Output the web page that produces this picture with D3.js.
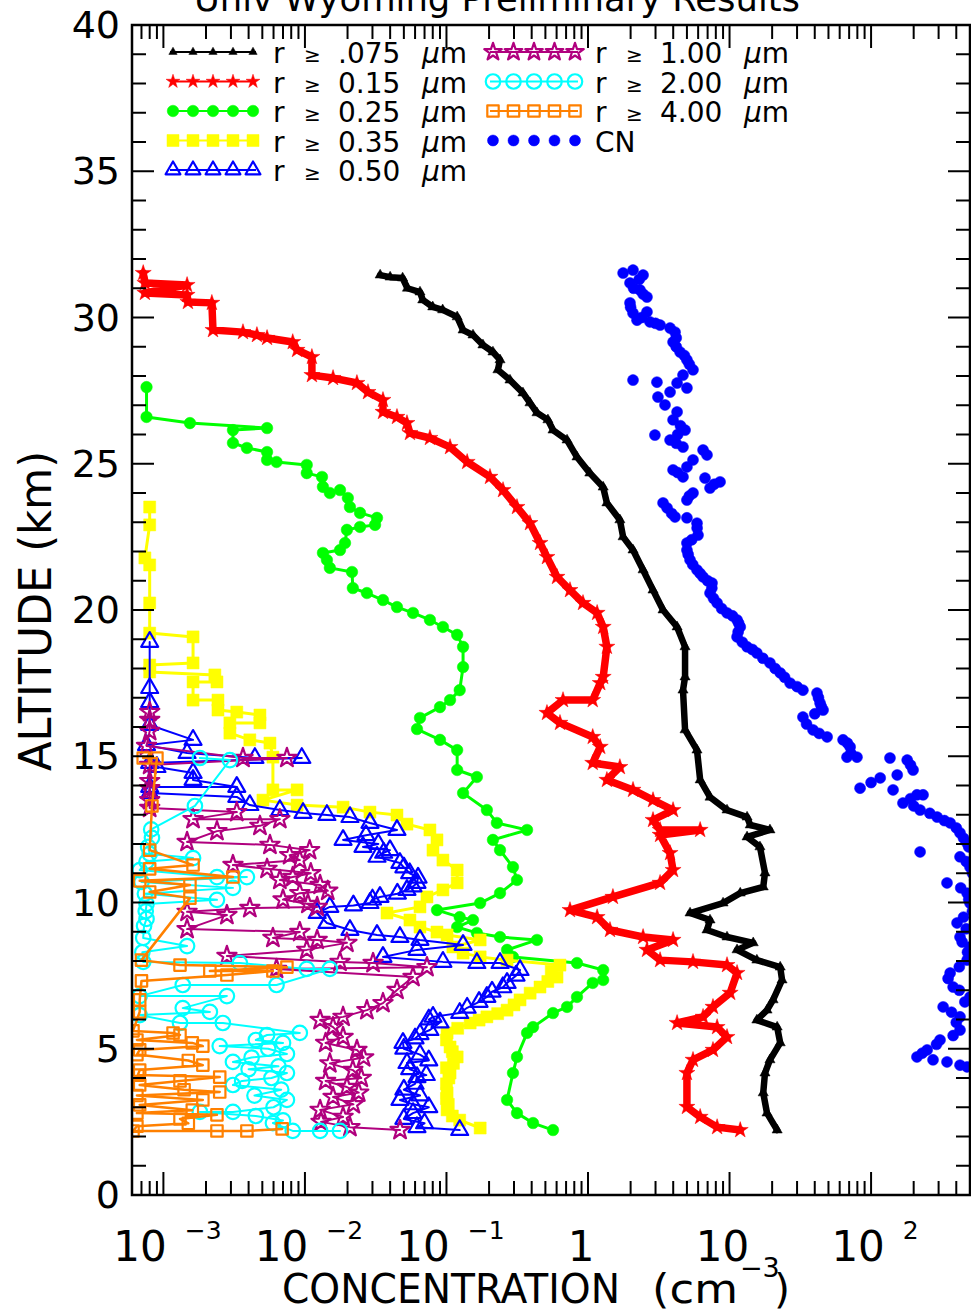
<!DOCTYPE html>
<html><head><meta charset="utf-8">
<script src="https://cdn.jsdelivr.net/npm/d3@7/dist/d3.min.js"></script>
<style>body{margin:0;background:#fff}svg{display:block}text{font-family:"DejaVu Sans",sans-serif;fill:#000}</style>
</head><body><svg id="c" width="971" height="1313"></svg>
<script>
// ---- data: [altitude km, concentration cm^-3] ----
const black = [[31.45,0.034],[31.38,0.040],[31.35,0.049],[31.0,0.053],[30.87,0.065],[30.6,0.068],[30.36,0.080],[30.26,0.094],[30.02,0.119],[29.57,0.131],[29.4,0.154],[29.06,0.181],[28.82,0.213],[28.55,0.239],[28.21,0.231],[27.86,0.281],[27.42,0.347],[27.08,0.389],[26.74,0.436],[26.5,0.521],[26.15,0.566],[25.81,0.711],[25.23,0.836],[24.68,1.03],[24.2,1.28],[23.66,1.36],[23.08,1.68],[22.5,1.77],[22.05,2.08],[21.37,2.45],[20.68,2.88],[20.0,3.39],[19.42,4.26],[18.74,4.85],[17.71,4.85],[17.26,4.69],[15.9,4.85],[15.21,5.89],[14.19,6.2],[13.6,7.28],[13.16,9.6],[12.92,13.3],[12.65,14.0],[12.48,19.3],[12.24,13.3],[11.9,16.4],[11.01,17.8],[10.53,17.3],[10.32,11.9],[9.98,9.0],[9.64,5.26],[9.4,7.28],[9.06,6.93],[8.82,9.6],[8.62,14.7],[8.38,11.3],[8.03,15.6],[7.79,22.8],[7.35,23.5],[6.67,20.3],[6.32,18.4],[5.98,15.6],[5.74,21.7],[5.2,22.8],[4.62,19.3],[4.17,17.8],[3.49,17.3],[2.8,18.4],[2.22,21.7]];
const red = [[31.52,7.2e-4],[31.18,7.4e-4],[31.11,1.47e-3],[30.84,7.4e-4],[30.77,1.47e-3],[30.53,1.49e-3],[30.5,2.2e-3],[29.57,2.24e-3],[29.5,3.65e-3],[29.4,4.58e-3],[29.3,5.4e-3],[29.16,8.2e-3],[28.89,8.8e-3],[28.65,0.0112],[28.03,0.0112],[27.93,0.0158],[27.76,0.0233],[27.45,0.0279],[27.18,0.0356],[26.77,0.0356],[26.6,0.0447],[26.39,0.0526],[26.05,0.0552],[25.88,0.0764],[25.57,0.106],[25.06,0.14],[24.55,0.203],[24.1,0.251],[23.52,0.315],[22.97,0.389],[22.29,0.458],[21.81,0.513],[21.13,0.604],[20.68,0.746],[20.24,0.922],[19.9,1.16],[19.42,1.28],[18.74,1.36],[17.71,1.28],[17.5,1.22],[16.92,1.08],[16.92,0.666],[16.48,0.513],[16.14,0.634],[15.66,1.08],[15.32,1.22],[14.77,1.08],[14.63,1.68],[14.19,1.36],[13.85,2.08],[13.5,2.88],[13.16,3.99],[12.82,2.88],[12.48,3.23],[12.48,6.2],[12.31,3.23],[11.69,3.8],[11.11,3.99],[10.67,3.23],[10.19,1.5],[9.74,0.746],[9.5,1.16],[9.06,1.43],[8.82,2.45],[8.72,3.99],[8.38,2.61],[8.03,3.23],[7.97,5.52],[7.86,9.6],[7.59,11.3],[6.91,10.1],[6.43,7.64],[6.09,6.5],[5.88,4.26],[5.74,8.17],[5.4,9.6],[4.96,7.64],[4.62,5.52],[4.17,5.0],[3.01,5.0],[2.67,6.2],[2.32,8.17],[2.22,11.9]];
const green = [[27.62,7.6e-4],[26.6,7.6e-4],[26.39,1.54e-3],[26.22,5.4e-3],[26.15,3.1e-3],[25.71,3.1e-3],[25.54,3.89e-3],[25.4,5.4e-3],[25.13,5.4e-3],[25.06,6.3e-3],[24.96,0.0103],[24.68,0.0103],[24.55,0.0132],[24.21,0.0134],[24.0,0.015],[24.1,0.0177],[23.83,0.0201],[23.52,0.0208],[23.32,0.0245],[23.15,0.0323],[22.91,0.0313],[22.84,0.0245],[22.74,0.0198],[22.29,0.0192],[22.05,0.0177],[21.95,0.0134],[21.71,0.0143],[21.44,0.015],[21.3,0.0215],[20.75,0.0218],[20.58,0.0274],[20.34,0.0356],[20.1,0.0447],[19.9,0.058],[19.66,0.0764],[19.42,0.0944],[19.15,0.119],[18.74,0.131],[18.05,0.131],[17.26,0.124],[16.92,0.106],[16.68,0.09],[16.31,0.065],[15.93,0.0619],[15.56,0.09],[15.21,0.119],[14.53,0.119],[14.29,0.164],[13.74,0.131],[13.16,0.193],[12.72,0.227],[12.48,0.371],[12.14,0.213],[11.79,0.239],[11.21,0.295],[10.77,0.315],[10.32,0.239],[9.98,0.173],[9.74,0.0857],[9.5,0.124],[9.4,0.154],[9.16,0.119],[8.96,0.164],[8.82,0.239],[8.72,0.436],[8.38,0.268],[8.14,0.295],[7.93,0.836],[7.69,1.28],[7.35,1.28],[7.25,1.08],[6.77,0.836],[6.43,0.711],[6.22,0.566],[5.74,0.409],[5.54,0.371],[4.72,0.315],[4.17,0.295],[3.25,0.268],[2.8,0.315],[2.46,0.409],[2.22,0.566]];
const yellow = [[23.52,8.0e-4],[22.91,8.0e-4],[21.78,7.4e-4],[21.54,8.0e-4],[20.24,8.0e-4],[19.21,8.0e-4],[19.08,1.62e-3],[18.19,1.62e-3],[18.12,8.0e-4],[17.88,8.0e-4],[17.78,2.31e-3],[17.54,2.39e-3],[17.54,1.62e-3],[16.92,1.62e-3],[16.92,2.43e-3],[16.58,2.43e-3],[16.51,3.3e-3],[16.41,4.81e-3],[16.14,4.81e-3],[16.14,2.95e-3],[15.79,2.95e-3],[15.56,4.08e-3],[15.45,5.66e-3],[14.97,5.94e-3],[13.85,5.94e-3],[13.85,8.8e-3],[13.5,5.05e-3],[13.33,8.8e-3],[13.26,0.0186],[13.09,0.0288],[12.99,0.0447],[12.68,0.0526],[12.48,0.0764],[12.14,0.0857],[11.79,0.0803],[11.45,0.0944],[11.11,0.119],[10.67,0.119],[10.43,0.0944],[10.19,0.0728],[9.85,0.065],[9.64,0.038],[9.4,0.0552],[9.16,0.065],[8.99,0.0857],[8.89,0.101],[8.72,0.173],[8.48,0.111],[8.27,0.131],[8.14,0.173],[8.03,0.268],[7.86,0.634],[7.65,0.55],[7.45,0.604],[7.3,0.52],[7.11,0.458],[6.9,0.39],[6.67,0.331],[6.5,0.3],[6.32,0.268],[6.2,0.23],[6.09,0.193],[5.98,0.17],[5.88,0.147],[5.7,0.12],[5.54,0.101],[5.3,0.1],[5.06,0.106],[4.9,0.11],[4.72,0.119],[4.5,0.112],[4.35,0.1],[4.17,0.106],[4.0,0.104],[3.8,0.1],[3.49,0.101],[3.3,0.1],[3.1,0.103],[2.91,0.101],[2.7,0.11],[2.56,0.124],[2.29,0.173]];
const blue = [[18.91,8.0e-4],[17.33,8.0e-4],[16.85,8.0e-4],[16.07,8.0e-4],[15.56,1.62e-3],[15.38,7.6e-4],[15.11,1.47e-3],[14.94,4.43e-3],[14.94,9.5e-3],[14.77,8.0e-4],[14.63,9.0e-4],[14.43,1.62e-3],[14.19,1.62e-3],[13.95,3.3e-3],[13.95,8.0e-4],[13.74,8.0e-4],[13.61,3.3e-3],[13.33,4.08e-3],[13.16,6.65e-3],[13.06,9.7e-3],[12.99,0.0143],[12.92,0.0208],[12.72,0.0288],[12.48,0.0447],[12.3,0.027],[12.14,0.0186],[12.0,0.033],[11.9,0.0257],[11.79,0.0399],[11.7,0.036],[11.56,0.0323],[11.35,0.0469],[11.2,0.05],[11.0,0.055],[10.85,0.063],[10.67,0.0619],[10.55,0.058],[10.43,0.0526],[10.3,0.045],[10.19,0.0339],[10.1,0.03],[9.98,0.0288],[9.9,0.022],[9.85,0.015],[9.64,0.0122],[9.3,0.0143],[9.06,0.0208],[8.89,0.0323],[8.82,0.0469],[8.72,0.065],[8.55,0.131],[8.38,0.0619],[8.14,0.0356],[7.97,0.0944],[7.93,0.164],[7.93,0.239],[7.69,0.331],[7.5,0.31],[7.25,0.268],[7.1,0.25],[6.95,0.21],[6.77,0.193],[6.6,0.17],[6.4,0.14],[6.22,0.124],[6.09,0.0803],[6.0,0.075],[5.9,0.09],[5.64,0.0764],[5.5,0.065],[5.35,0.06],[5.2,0.0493],[5.0,0.05],[4.8,0.065],[4.6,0.075],[4.51,0.0526],[4.3,0.055],[4.1,0.072],[4.03,0.0619],[3.8,0.06],[3.6,0.05],[3.4,0.065],[3.25,0.0469],[3.1,0.058],[3.0,0.075],[2.8,0.058],[2.6,0.05],[2.45,0.07],[2.32,0.0619],[2.22,0.124]];
const purple = [[16.51,8.0e-4],[16.24,8.0e-4],[15.86,8.0e-4],[15.35,7.6e-4],[14.94,3.65e-3],[14.94,7.46e-3],[14.7,8.0e-4],[14.15,8.0e-4],[13.91,8.0e-4],[13.5,8.0e-4],[13.23,8.0e-4],[13.09,3.3e-3],[12.85,1.62e-3],[12.85,6.65e-3],[12.62,4.81e-3],[12.44,2.39e-3],[12.07,1.47e-3],[11.97,5.66e-3],[11.79,0.0108],[11.62,7.8e-3],[11.45,9.2e-3],[11.28,3.1e-3],[11.15,5.4e-3],[11.0,0.011],[10.87,8.2e-3],[10.77,6.65e-3],[10.6,0.0128],[10.4,0.0145],[10.32,9.2e-3],[10.1,7.0e-3],[9.95,0.0105],[9.85,0.0122],[9.81,4.08e-3],[9.68,1.47e-3],[9.57,2.81e-3],[9.09,1.47e-3],[8.99,9.2e-3],[8.79,5.94e-3],[8.72,0.0122],[8.62,0.0198],[8.38,0.0103],[8.17,2.81e-3],[7.97,0.0177],[7.93,0.0303],[7.79,0.0728],[7.73,6.3e-3],[7.45,0.058],[7.01,0.0447],[6.56,0.0356],[6.32,0.0274],[6.09,0.0186],[5.98,0.0128],[5.74,0.0158],[5.4,0.0186],[5.2,0.014],[4.96,0.0233],[4.7,0.026],[4.5,0.015],[4.27,0.0218],[4.0,0.025],[3.9,0.014],[3.69,0.0198],[3.5,0.024],[3.35,0.0158],[3.1,0.022],[2.91,0.0128],[2.67,0.0186],[2.5,0.013],[2.32,0.0208],[2.22,0.047]];
const cyan = [[14.94,1.81e-3],[14.87,2.95e-3],[13.3,1.67e-3],[12.5,8.2e-4],[12.21,8.3e-4],[11.9,7.8e-4],[11.66,8.0e-4],[11.52,1.62e-3],[11.4,7.6e-4],[11.11,6.8e-4],[10.87,2.39e-3],[10.87,3.89e-3],[10.7,7.0e-4],[10.5,3.1e-3],[10.3,7.4e-4],[10.09,2.39e-3],[9.95,7.6e-4],[9.7,7.5e-4],[9.44,7.6e-4],[9.2,7.3e-4],[8.79,7.2e-4],[8.51,1.47e-3],[8.3,7.1e-4],[7.97,7.2e-4],[7.93,3.47e-3],[7.73,0.0103],[7.73,0.015],[7.18,6.3e-3],[7.18,1.37e-3],[6.8,6.8e-4],[6.8,2.81e-3],[6.39,1.37e-3],[6.26,2.13e-3],[6.15,6.8e-4],[5.88,1.31e-3],[5.88,2.63e-3],[5.54,9.2e-3],[5.47,5.4e-3],[5.3,4.5e-3],[5.2,7.0e-3],[5.09,2.5e-3],[5.0,5.5e-3],[4.82,7.46e-3],[4.7,4.2e-3],[4.55,3.1e-3],[4.4,6.5e-3],[4.3,4.0e-3],[4.17,7.46e-3],[4.0,5.8e-3],[3.9,3.6e-3],[3.76,3.1e-3],[3.6,6.8e-3],[3.4,4.4e-3],[3.25,7.46e-3],[3.0,6.0e-3],[2.84,3.1e-3],[2.84,1.81e-3],[2.7,4.5e-3],[2.55,7.0e-3],[2.46,5.94e-3],[2.19,8.2e-3],[2.19,0.0128],[2.19,0.0177]];
const orange = [[14.94,7.2e-4],[14.94,9.0e-4],[13.3,8.3e-4],[11.79,8.0e-4],[11.28,1.62e-3],[11.15,8.0e-4],[10.87,3.1e-3],[10.74,6.8e-4],[10.6,1.54e-3],[10.36,8.0e-4],[10.15,1.54e-3],[8.03,7.0e-4],[7.86,1.31e-3],[7.79,7.46e-3],[7.66,2.13e-3],[7.66,5.94e-3],[7.52,2.81e-3],[7.32,7.0e-4],[6.67,6.8e-4],[6.26,6.8e-4],[5.61,6.1e-4],[5.54,1.17e-3],[5.47,1.31e-3],[5.3,6.5e-4],[5.2,1.6e-3],[5.09,1.9e-3],[4.96,6.8e-4],[4.8,6.5e-4],[4.6,1.5e-3],[4.44,1.9e-3],[4.27,6.8e-4],[4.1,6.6e-4],[4.03,2.5e-3],[3.9,1.31e-3],[3.76,6.8e-4],[3.6,1.4e-3],[3.52,2.5e-3],[3.4,6.5e-4],[3.25,1.9e-3],[3.08,6.8e-4],[2.9,1.6e-3],[2.8,6.5e-4],[2.74,2.39e-3],[2.6,1.31e-3],[2.45,1.5e-3],[2.35,6.5e-4],[2.19,6.1e-4],[2.19,2.39e-3],[2.19,3.89e-3],[2.26,6.9e-3]];
const cn = [[31.52,1.77],[31.62,2.08],[31.45,2.45],[31.3,2.3],[31.18,1.98],[31.0,2.1],[30.94,2.33],[30.8,2.45],[30.7,2.61],[30.5,1.98],[30.35,2.0],[30.15,2.08],[30.19,2.61],[30.0,2.4],[29.91,2.22],[29.85,2.74],[29.8,3.0],[29.74,3.23],[29.64,3.8],[29.5,4.12],[29.3,4.2],[29.16,3.99],[29.0,4.2],[28.82,4.47],[28.7,4.8],[28.55,5.0],[28.4,5.2],[28.21,5.52],[28.03,4.69],[27.86,2.08],[27.79,3.07],[27.76,4.26],[27.59,5.0],[27.45,3.8],[27.28,3.12],[27.01,3.5],[26.77,4.26],[26.5,3.99],[26.3,4.5],[26.15,4.85],[26.0,4.3],[25.98,2.97],[25.81,3.8],[25.7,4.2],[25.57,4.69],[25.47,6.5],[25.3,6.93],[25.13,5.52],[24.89,5.0],[24.79,3.99],[24.7,4.3],[24.55,4.69],[24.51,6.71],[24.38,8.57],[24.3,7.8],[24.17,7.28],[24.0,5.52],[23.9,5.2],[23.76,5.0],[23.66,3.39],[23.49,3.62],[23.3,3.9],[23.18,4.12],[23.15,5.0],[22.97,5.89],[22.8,5.9],[22.56,5.99],[22.4,5.4],[22.29,5.0],[22.05,5.0],[21.9,5.1],[21.71,5.26],[21.55,5.5],[21.37,5.89],[21.25,6.2],[21.13,6.5],[21.0,7.0],[20.92,7.52],[20.75,7.5],[20.58,7.28],[20.4,7.7],[20.24,8.17],[20.05,8.8],[19.9,9.6],[19.8,10.5],[19.66,11.3],[19.55,11.6],[19.42,11.9],[19.25,11.5],[19.08,11.3],[18.9,12.3],[18.74,13.3],[18.65,14.5],[18.53,15.6],[18.35,17.2],[18.19,19.3],[18.0,21],[17.85,22.8],[17.7,24.5],[17.5,26.8],[17.38,30],[17.26,33.0],[17.16,41.5],[17.0,42.5],[16.82,43.6],[16.7,44.5],[16.58,45.8],[16.45,40],[16.34,33.0],[16.1,35],[15.9,38.9],[15.78,43],[15.66,48.9],[15.56,63.4],[15.45,68],[15.32,71.1],[15.1,72],[14.97,67.6],[14.97,79.5],[14.94,136],[14.87,180],[14.7,190],[14.53,198],[14.36,153],[14.26,116],[14.1,100],[13.91,83.6],[13.85,143],[13.68,211],[13.68,233],[13.55,190],[13.4,168],[13.3,200],[13.16,222],[13.05,260],[12.92,293],[12.8,330],[12.72,362],[12.55,400],[12.38,425],[12.2,450],[12.03,477],[11.9,490],[11.73,222],[11.56,425],[11.4,470],[11.21,500],[11.0,520],[10.77,540],[10.67,344],[10.5,430],[10.32,477],[10.1,490],[9.98,500],[9.7,520],[9.5,450],[9.3,405],[9.1,470],[8.82,425],[8.65,440],[8.48,500],[8.3,480],[8.03,477],[7.8,420],[7.59,362],[7.4,350],[7.11,380],[7.0,420],[6.77,500],[6.6,460],[6.43,323],[6.25,370],[6.09,425],[5.9,400],[5.64,425],[5.45,380],[5.3,307],[5.15,290],[4.96,249],[4.85,230],[4.72,211],[4.62,274],[4.55,344],[4.44,425],[4.38,477]];

const sizeLabels = [".075","0.15","0.25","0.35","0.50","1.00","2.00","4.00"];
const majorTicks = [1e-3,1e-2,1e-1,1,10,100];
const tickExp = ["−3","−2","−1","","","2"];
const tickBase = ["10","10","10","1","10","10"];
const altTicks = [0,5,10,15,20,25,30,35,40];

// ---- layout ----
const L=132,R=970,T=25,B=1195;
const x = d3.scaleLog().domain([6e-4,500]).range([L,R]);
const y = d3.scaleLinear().domain([0,40]).range([B,T]);
const svg = d3.select("#c");
svg.append("rect").attr("width",971).attr("height",1313).attr("fill","#fff");
svg.append("clipPath").attr("id","clip").append("rect").attr("x",L).attr("y",T).attr("width",R-L).attr("height",B-T);

const series = [
 {data:black, color:"#000000", sym:d3.symbolTriangle, size:45, filled:true, lw:6.5, llw:2},
 {data:red, color:"#ff0000", sym:d3.symbolStar, size:80, filled:true, lw:7.5, llw:2},
 {data:green, color:"#00ff00", sym:d3.symbolCircle, size:105, filled:true, lw:3, llw:2},
 {data:yellow, color:"#ffff00", sym:d3.symbolSquare, size:145, filled:true, lw:3, llw:2},
 {data:blue, color:"#0000ff", sym:d3.symbolTriangle, size:125, filled:false, lw:2, llw:2},
 {data:purple, color:"#b0007e", sym:d3.symbolStar, size:115, filled:false, lw:2, llw:2},
 {data:cyan, color:"#00ffff", sym:d3.symbolCircle, size:165, filled:false, lw:2, llw:2},
 {data:orange, color:"#ff8000", sym:d3.symbolSquare, size:130, filled:false, lw:2.5, llw:2},
 {data:cn, color:"#0000ff", sym:d3.symbolCircle, size:95, filled:true, lw:0, llw:0}
];

const line = d3.line().x(d=>x(d[1])).y(d=>y(d[0]));
const plot = svg.append("g").attr("clip-path","url(#clip)");
function drawMarks(g, s, pts, px, py, sz){
  g.selectAll(null).data(pts).join("path")
   .attr("transform",d=>`translate(${px(d)},${py(d)})`)
   .attr("d",d3.symbol(s.sym,sz||s.size)())
   .attr("fill",s.filled?s.color:"none")
   .attr("stroke",s.color)
   .attr("stroke-width",s.filled?0.5:2.2)
   .attr("stroke-linejoin","round");
}
series.forEach(s=>{
  const g = plot.append("g");
  if(s.lw>0) g.append("path").attr("d",line(s.data)).attr("fill","none")
     .attr("stroke",s.color).attr("stroke-width",s.lw).attr("stroke-linejoin","round").attr("stroke-linecap","round");
  drawMarks(g,s,s.data,d=>x(d[1]),d=>y(d[0]));
});

// ---- axes ----
const minorTicks=[];
for(let e=-4;e<=2;e++) for(let k=2;k<=9;k++){const v=k*Math.pow(10,e); if(v>=6e-4&&v<=500) minorTicks.push(v);}
const ax = svg.append("g").attr("stroke","#000").attr("stroke-width",2);
ax.append("rect").attr("x",L).attr("y",T).attr("width",R-L).attr("height",B-T).attr("fill","none").attr("stroke-width",2.5);
function xt(vals,len){
  vals.forEach(v=>{
    ax.append("line").attr("x1",x(v)).attr("x2",x(v)).attr("y1",B).attr("y2",B-len);
    ax.append("line").attr("x1",x(v)).attr("x2",x(v)).attr("y1",T).attr("y2",T+len);
  });
}
xt(minorTicks,14); xt(majorTicks,23);
d3.range(0,41).forEach(a=>{
  const len = a%5===0?22:14;
  ax.append("line").attr("x1",L).attr("x2",L+len).attr("y1",y(a)).attr("y2",y(a));
  ax.append("line").attr("x1",R).attr("x2",R-len).attr("y1",y(a)).attr("y2",y(a));
});

// y tick labels
svg.selectAll(null).data(altTicks).join("text")
  .attr("x",120).attr("y",d=>y(d)+13).attr("text-anchor","end")
  .attr("font-size",38).text(d=>d);
// x tick labels
majorTicks.forEach((v,i)=>{
  const t = svg.append("text").attr("x",x(v)+(tickExp[i]?4:-7)).attr("y",1261)
    .attr("text-anchor","middle").attr("font-size",42);
  t.append("tspan").text(tickBase[i]);
  if(tickExp[i]) t.append("tspan").attr("dx",18).attr("dy",-22).attr("font-size",25).text(tickExp[i]);
});

// titles
svg.append("text").attr("x",194).attr("y",11).attr("font-size",36)
  .attr("textLength",606).attr("lengthAdjust","spacingAndGlyphs")
  .text("Univ  Wyoming  Preliminary  Results");
svg.append("text").attr("transform","translate(51,611) rotate(-90)").attr("text-anchor","middle")
  .attr("font-size",44).attr("textLength",320).attr("lengthAdjust","spacingAndGlyphs").text("ALTITUDE  (km)");
const xl = svg.append("g");
xl.append("text").attr("x",282).attr("y",1303).attr("font-size",41).attr("textLength",338).attr("lengthAdjust","spacingAndGlyphs").text("CONCENTRATION");
xl.append("text").attr("x",652).attr("y",1303).attr("font-size",41).attr("textLength",86).attr("lengthAdjust","spacingAndGlyphs").text("(cm");
xl.append("text").attr("x",740).attr("y",1277).attr("font-size",27).text("−3");
xl.append("text").attr("x",774).attr("y",1303).attr("font-size",41).text(")");

// ---- legend ----
const lg = svg.append("g");
series.forEach((s,i)=>{
  const col = i<5?0:1, row = i<5?i:i-5;
  const cy = 52 + row*29.5;
  const x0 = col===0?170:490, x1 = col===0?256:578;
  const mx = d3.range(5).map(k=>x0+3+k*(x1-x0-6)/4);
  if(s.llw>0) lg.append("line").attr("x1",x0).attr("x2",x1).attr("y1",cy).attr("y2",cy).attr("stroke",s.color).attr("stroke-width",s.llw);
  drawMarks(lg,s,mx,d=>d,()=>cy, i===0?30:(i===1?60:(i===4||i===5?95:null)));
  const tx = col===0?273:595;
  if(i<8){
    lg.append("text").attr("x",tx).attr("y",cy+11).attr("font-size",28).text("r");
    lg.append("text").attr("x",tx+31).attr("y",cy+10).attr("font-size",20).text("≥");
    lg.append("text").attr("x",tx+65).attr("y",cy+11).attr("font-size",28).text(sizeLabels[i]);
    const u = lg.append("text").attr("x",tx+149).attr("y",cy+11).attr("font-size",28);
    u.append("tspan").attr("font-style","italic").text("μ"); u.append("tspan").text("m");
  } else {
    lg.append("text").attr("x",tx).attr("y",cy+11).attr("font-size",28).text("CN");
  }
});
</script></body></html>
